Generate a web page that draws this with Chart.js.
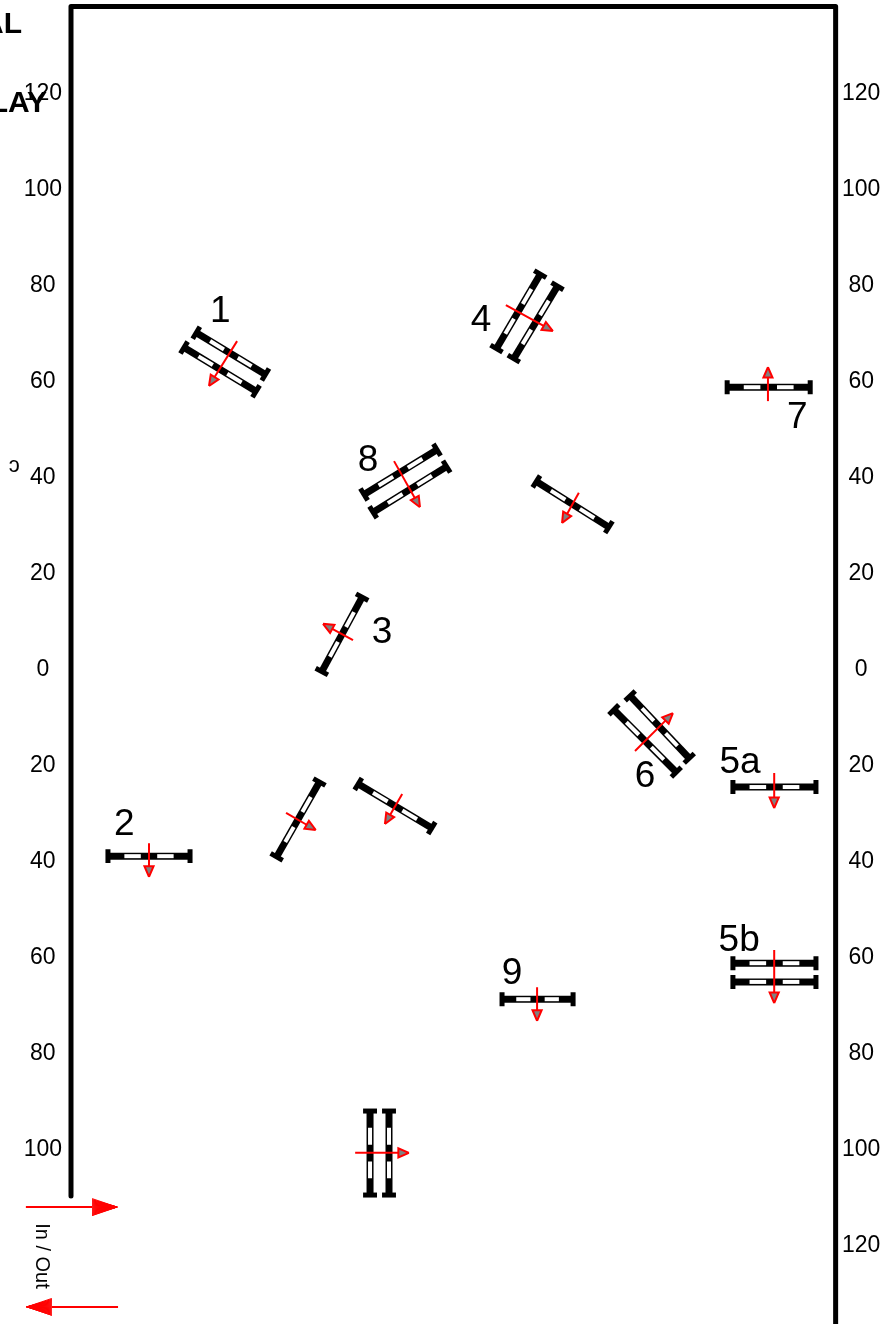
<!DOCTYPE html>
<html>
<head>
<meta charset="utf-8">
<title>Course plan</title>
<style>
  html, body { margin: 0; padding: 0; background: #fff; overflow: hidden; }
  canvas { display: block; }
</style>
<script src="https://cdn.jsdelivr.net/npm/chart.js@4/dist/chart.umd.js"></script>
</head>
<body>
<canvas id="course" width="885" height="1324"></canvas>
<script>
'use strict';

/* ----------------------------------------------------------
   DATA (metres on the arena grid)
---------------------------------------------------------- */
const yTicks = [120, 100, 80, 60, 40, 20, 0, -20, -40, -60, -80, -100, -120];

/* Arena fence: open at the bottom left for the in / out gate */
const fenceX = [0, 0, 159.3, 159.3];
const fenceY = [-110, 137.8, 137.8, -137];

/* Fence rails, one entry per rail (doubles have two) */
const railX1 = [26.1, 23.55, 7.7, 60.65, 51.75, 59.85, 97.75, 101.35, 96.95, 137.9, 137.9, 137.9, 116.5, 113.1, 136.7, 61.05, 62.95, 89.8, 62.3, 66.25];
const railY1 = [69.85, 66.75, -39.2, 14.75, -23.75, -24.15, 82.05, 79.55, 38.85, -24.8, -61.5, -65.4, -5.8, -8.7, 58.5, 36.15, 32.45, -69.0, -92.3, -92.3];
const railX2 = [40.5, 38.55, 24.8, 52.25, 42.85, 75.15, 88.65, 92.25, 112.05, 155.2, 155.2, 155.2, 128.8, 126.1, 154.0, 76.25, 78.25, 104.6, 62.3, 66.25];
const railY2 = [61.15, 57.65, -39.2, -0.75, -39.35, -33.35, 66.55, 64.45, 29.35, -24.8, -61.5, -65.4, -18.8, -21.7, 58.5, 45.45, 41.95, -69.0, -109.8, -109.8];

/* Jumping direction arrows, tail to tip */
const arrowX1 = [34.6, 16.25, 58.75, 44.8, 69.0, 90.6, 105.8, 146.5, 146.5, 117.5, 145.2, 67.3, 97.1, 59.2];
const arrowY1 = [68.1, -36.5, 5.8, -30.2, -26.25, 75.6, 36.5, -21.9, -58.75, -17.3, 55.6, 43.1, -66.5, -101];
const arrowX2 = [28.75, 16.25, 52.5, 51.0, 65.4, 100.4, 102.3, 146.5, 146.5, 125.4, 145.2, 72.7, 97.1, 70.4];
const arrowY2 = [58.75, -43.5, 9.2, -33.75, -32.5, 70.2, 30.2, -29.2, -69.8, -9.4, 62.7, 33.5, -73.5, -101];

/* In / out gate arrows */
const gateX1 = [-9.4, 9.8];
const gateX2 = [9.6, -9.2];
const gateY = [-112.3, -133.1];

/* Fence numbers */
const jumpLabels = ['1', '2', '3', '4', '5a', '5b', '6', '7', '8', '9'];
const jumpLabelX = [31.1, 11.1, 64.8, 85.4, 139.4, 139.2, 119.6, 151.3, 61.9, 91.9];
const jumpLabelY = [74.8, -32.1, 7.9, 72.9, -19.2, -56.2, -22.1, 52.7, 43.7, -63.0];

/* Leftover page text cut off by the left edge */
const clippedLabels = ['AL', 'LAY'];
const clippedRight = [-10.2, -5.0];
const clippedBaseline = [132.3, 115.8];

/* ----------------------------------------------------------
   STYLE
---------------------------------------------------------- */
const PX_PER_UNIT = 4.8;
const FONT = '"Liberation Sans", Arial, sans-serif';
const BLACK = '#000000';
const RED = '#ff0000';

/* ----------------------------------------------------------
   DATASET HELPERS
---------------------------------------------------------- */
const datasets = [];

function addLine(points, color, width, extra) {
  datasets.push(Object.assign({
    data: points,
    showLine: true,
    borderColor: color,
    borderWidth: width,
    pointRadius: 0,
    clip: false,
    borderCapStyle: 'butt',
    order: -datasets.length,
  }, extra || {}));
}

function lerp(x1, y1, x2, y2, t) {
  return { x: x1 + (x2 - x1) * t, y: y1 + (y2 - y1) * t };
}

/* One rail: black bar, two white panels, a cap at each end */
function addRail(x1, y1, x2, y2) {
  const len = Math.hypot(x2 - x1, y2 - y1);
  const nx = -(y2 - y1) / len * 1.45;
  const ny = (x2 - x1) / len * 1.45;

  addLine([{ x: x1, y: y1 }, { x: x2, y: y2 }], BLACK, 7);
  [[0.2, 0.4], [0.6, 0.8]].forEach(p => {
    addLine([lerp(x1, y1, x2, y2, p[0]), lerp(x1, y1, x2, y2, p[1])], '#ffffff', 4);
  });
  [[x1, y1], [x2, y2]].forEach(e => {
    addLine([{ x: e[0] + nx, y: e[1] + ny }, { x: e[0] - nx, y: e[1] - ny }], BLACK, 5);
  });
}

/* Direction arrow: red shaft and a small grey head with red edge */
function addArrow(x1, y1, x2, y2) {
  const len = Math.hypot(x2 - x1, y2 - y1);
  const ux = (x2 - x1) / len;
  const uy = (y2 - y1) / len;
  const bx = x2 - ux * 2.2;
  const by = y2 - uy * 2.2;

  addLine([{ x: x1, y: y1 }, { x: bx, y: by }], RED, 2);
  addLine([
    { x: x2, y: y2 },
    { x: bx - uy * 0.95, y: by + ux * 0.95 },
    { x: bx + uy * 0.95, y: by - ux * 0.95 },
    { x: x2, y: y2 },
  ], RED, 2, { fill: 'shape', backgroundColor: '#808080', borderJoinStyle: 'miter' });
}

/* Gate arrow: the filler plugin and points stop at the chart area, and
   these heads sit left of it, so the head is a zigzag of strokes */
function addGateArrow(x1, x2, y) {
  const dir = x2 > x1 ? 1 : -1;
  const baseX = x2 - dir * 5.2;
  const fan = [];
  for (let k = -8; k <= 8; k++) {
    fan.push({ x: x2, y }, { x: baseX, y: y + k * 0.22 });
  }
  addLine([{ x: x1, y }, { x: baseX, y }], RED, 2);
  addLine(fan, RED, 1, { borderJoinStyle: 'bevel' });
}

/* ----------------------------------------------------------
   BUILD DATASETS
---------------------------------------------------------- */
addLine(fenceX.map((x, i) => ({ x, y: fenceY[i] })), BLACK, 5, {
  borderJoinStyle: 'round',
  borderCapStyle: 'round',
});

railX1.forEach((x, i) => addRail(x, railY1[i], railX2[i], railY2[i]));
arrowX1.forEach((x, i) => addArrow(x, arrowY1[i], arrowX2[i], arrowY2[i]));
gateX1.forEach((x, i) => addGateArrow(x, gateX2[i], gateY[i]));

/* ----------------------------------------------------------
   TEXT PLUGIN
   Fence numbers and the other loose text, placed on the scales.
---------------------------------------------------------- */
const coursePlanText = {
  id: 'coursePlanText',
  afterDatasetsDraw(chart) {
    const { ctx, scales } = chart;
    const sx = scales.x;
    const sy = scales.y;

    ctx.save();
    ctx.fillStyle = BLACK;

    ctx.font = '37px ' + FONT;
    ctx.textAlign = 'center';
    ctx.textBaseline = 'middle';
    jumpLabels.forEach((t, i) => {
      ctx.fillText(t, sx.getPixelForValue(jumpLabelX[i]), sy.getPixelForValue(jumpLabelY[i]) + 3);
    });

    ctx.font = 'bold 30px ' + FONT;
    ctx.textAlign = 'right';
    ctx.textBaseline = 'alphabetic';
    clippedLabels.forEach((t, i) => {
      ctx.fillText(t, sx.getPixelForValue(clippedRight[i]), sy.getPixelForValue(clippedBaseline[i]));
    });

    ctx.font = '22px ' + FONT;
    ctx.textAlign = 'center';
    ctx.textBaseline = 'middle';
    ctx.fillText('\u0254', sx.getPixelForValue(-11.8), sy.getPixelForValue(42.2));

    /* Rotated gate caption */
    ctx.translate(sx.getPixelForValue(-6.1), sy.getPixelForValue(-122.5));
    ctx.rotate(Math.PI / 2);
    ctx.font = '20px ' + FONT;
    ctx.fillText('In / Out', 0, 0);
    ctx.restore();
  },
};

/* ----------------------------------------------------------
   CHART
---------------------------------------------------------- */
const yMax = 668 / PX_PER_UNIT;
const yMin = (668 - 1324) / PX_PER_UNIT;

function yAxis(position, width, padding, hide) {
  return {
    axis: 'y',
    type: 'linear',
    position,
    min: yMin,
    max: yMax,
    afterFit(scale) {
      scale.width = width;
      /* no room reserved for the outer tick labels */
      scale.paddingTop = 0;
      scale.paddingBottom = 0;
    },
    afterBuildTicks(scale) { scale.ticks = yTicks.map(value => ({ value })); },
    grid: { display: false, drawTicks: false },
    border: { display: false },
    ticks: {
      padding,
      labelOffset: 2,
      crossAlign: 'center',
      autoSkip: false,
      maxRotation: 0,
      color: BLACK,
      font: { family: FONT, size: 23 },
      callback(value) { return hide.includes(value) ? '' : String(Math.abs(value)); },
    },
  };
}

new Chart(document.getElementById('course'), {
  type: 'scatter',
  data: { datasets },
  plugins: [coursePlanText],
  options: {
    responsive: false,
    animation: false,
    devicePixelRatio: 1,
    layout: { padding: 0, autoPadding: false },
    plugins: { legend: { display: false }, tooltip: { enabled: false } },
    scales: {
      x: { type: 'linear', display: false, min: 0, max: 765 / PX_PER_UNIT },
      y: yAxis('left', 71, 9, [-120]),
      y2: yAxis('right', 49, 6, []),
    },
  },
});
</script>
</body>
</html>
